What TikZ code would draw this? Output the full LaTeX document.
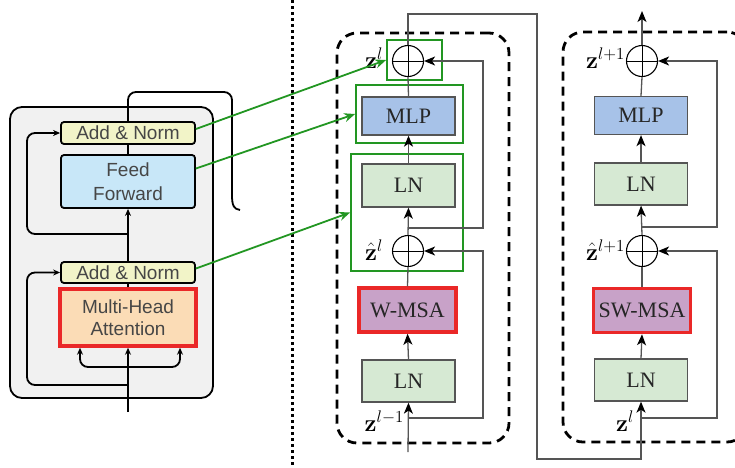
\RequirePackage{fix-cm}
\documentclass[tikz,border=0pt]{standalone}
\usepackage{amsmath,amssymb}
\usepackage[no-math]{fontspec}
\setmainfont{Liberation Serif}
\setsansfont{Liberation Sans}
\usepackage{xcolor}
\usepackage{tikz}
\usetikzlibrary{arrows.meta,positioning,calc}

\definecolor{encgray}{RGB}{241,241,241}
\definecolor{addyellow}{RGB}{242,244,200}
\definecolor{ffblue}{RGB}{200,231,248}
\definecolor{mhapeach}{RGB}{251,220,182}
\definecolor{hotred}{RGB}{234,40,40}
\definecolor{enctext}{RGB}{70,70,70}
\definecolor{mlpblue}{RGB}{167,194,232}
\definecolor{lngreen}{RGB}{214,233,211}
\definecolor{msapurple}{RGB}{200,162,200}
\definecolor{wire}{RGB}{85,85,85}
\definecolor{linkgreen}{RGB}{34,150,34}

\begin{document}
\begin{tikzpicture}[x=1pt, y=-1pt,
    encbox/.style={draw, line width=1.8pt, rounded corners=3pt, minimum width=134pt, inner sep=0pt, align=center, text=enctext, font=\sffamily\fontsize{19}{24}\selectfont},
    encline/.style={line width=1.8pt, rounded corners=8pt},
    encarrow/.style={encline, -{Stealth[length=7pt, width=6pt]}},
    swin/.style={draw=wire, line width=1.3pt, minimum width=93pt, inner sep=0pt, text=black!85, font=\fontsize{22}{24}\selectfont},
    msa/.style={swin, draw=hotred, line width=3.5pt, fill=msapurple, minimum width=97pt, minimum height=44pt},
    plus/.style={circle, draw=black, line width=1.1pt, minimum size=31pt, inner sep=0pt,
        path picture={\draw[black, line width=1pt] (path picture bounding box.north) -- (path picture bounding box.south)
            (path picture bounding box.west) -- (path picture bounding box.east);}},
    wireline/.style={draw=wire, line width=1.3pt},
    wirearrow/.style={wireline, -{Stealth[length=11pt, width=9pt, inset=3pt, color=black]}},
    blockbox/.style={draw, dash pattern=on 9pt off 6pt, line width=2.8pt, rounded corners=20pt, inner sep=0pt},
    greenbox/.style={draw=linkgreen, line width=1.8pt, inner sep=0pt},
    link/.style={draw=linkgreen, line width=1.8pt, -{Stealth[length=11pt, width=9pt]}},
    lbl/.style={inner sep=0pt, font=\fontsize{24}{26}\selectfont}
]
\useasboundingbox (0,0) rectangle (735,467);

% transformer encoder
\node[draw, fill=encgray, line width=1.8pt, rounded corners=12pt, minimum width=203pt, minimum height=291pt, inner sep=0pt] (enc) at (111.5,252.5) {};
\node[encbox, fill=addyellow, minimum height=22pt] (addtop) at (128,133) {Add \& Norm};
\node[encbox, fill=ffblue, minimum height=53pt] (ff) at (128,181.5) {Feed\\Forward};
\node[encbox, fill=addyellow, minimum height=21pt] (addbot) at (128,272.5) {Add \& Norm};
\node[encbox, draw=hotred, line width=3.5pt, rounded corners=0pt, fill=mhapeach, minimum width=136pt, minimum height=57pt, font=\sffamily\fontsize{19}{22}\selectfont] (mha) at (128,317.5) {Multi-Head\\Attention};

\coordinate (encin) at (128,412);
\coordinate (split) at (128,367);
\coordinate (skipa) at (128,385);
\coordinate (skipb) at (128,234);
\draw[encarrow] (encin) -- (mha.south);
\draw[encarrow] (split) -| ([xshift=-48pt]mha.south);
\draw[encarrow] (split) -| ([xshift=52pt]mha.south);
\draw[encarrow] (skipa) -- (27,385) |- (addbot.west);
\draw[encline] (mha.north) -- (addbot.south);
\draw[encarrow] (addbot.north) -- (ff.south);
\draw[encarrow] (skipb) -- (27,234) |- (addtop.west);
\draw[encline] (ff.north) -- (addtop.south);
\draw[encline] (addtop.north) -- (128,92) -- (232,92) -- (232,196);
\draw[line width=1.8pt] (232,195) .. controls (232,206) and (234,209) .. (240,210);

\draw[line width=3pt, dash pattern=on 3pt off 3pt] (292,0) -- (292,467);

% W-MSA block
\node[blockbox, minimum width=172pt, minimum height=410pt] (blk1) at (423,238) {};
\node[plus] (add1) at (408,61) {};
\node[swin, fill=mlpblue, minimum height=38pt] (mlp1) at (408.5,116) {MLP};
\node[swin, fill=lngreen, minimum height=43pt] (ln1a) at (408.5,185.5) {LN};
\node[plus] (add1h) at (408,251) {};
\node[msa] (msa1) at (407.5,310) {W-MSA};
\node[swin, fill=lngreen, minimum height=42pt] (ln1b) at (408.5,381) {LN};
\node[greenbox, minimum width=55pt, minimum height=40pt] (gadd) at (414.5,60) {};
\node[greenbox, minimum width=107pt, minimum height=58pt] (gmlp) at (409.5,114) {};
\node[greenbox, minimum width=112pt, minimum height=117pt] (gln) at (407,212.5) {};

\node[lbl, anchor=base east] (zl) at (383,68) {$\mathbf{z}^{l}$};
\node[lbl, anchor=base east] (zhl) at (383,260) {$\hat{\mathbf{z}}^{l}$};
\node[lbl, anchor=base east] (zlm) at (404,431) {$\mathbf{z}^{l-1}$};

\coordinate (in1) at (408,452);
\coordinate (res1a) at (408,418);
\coordinate (res1b) at (408,228);
\draw[wirearrow] (in1) -- (ln1b.south);
\draw[wirearrow] (res1a) -- (483,418) |- (add1h.east);
\draw[wirearrow] (ln1b.north) -- (msa1.south);
\draw[wireline] (msa1.north) -- (add1h.south);
\draw[wirearrow] (add1h.north) -- (ln1a.south);
\draw[wirearrow] (res1b) -- (483,228) |- (add1.east);
\draw[wirearrow] (ln1a.north) -- (mlp1.south);
\draw[wireline] (mlp1.north) -- (add1.south);

% SW-MSA block
\node[blockbox, minimum width=184pt, minimum height=410pt] (blk2) at (655,237) {};
\node[plus] (add2) at (642,61) {};
\node[swin, fill=mlpblue, minimum height=38pt] (mlp2) at (641,115.5) {MLP};
\node[swin, fill=lngreen, minimum height=42pt] (ln2a) at (641,184) {LN};
\node[plus] (add2h) at (642,251) {};
\node[msa] (msa2) at (642,310.5) {SW-MSA};
\node[swin, fill=lngreen, minimum height=42pt] (ln2b) at (641,380) {LN};

\node[lbl, anchor=base east] (zlp) at (625,68) {$\mathbf{z}^{l+1}$};
\node[lbl, anchor=base east] (zhlp) at (625,260) {$\hat{\mathbf{z}}^{l+1}$};
\node[lbl, anchor=base east] (zl2) at (634,431) {$\mathbf{z}^{l}$};

\coordinate (out2) at (642,11);
\coordinate (res2a) at (642,418);
\coordinate (res2b) at (642,227);
\draw[wirearrow] (add1.north) -- (408,14) -| (537,459) -| (ln2b.south);
\draw[wirearrow] (res2a) -- (717,418) |- (add2h.east);
\draw[wirearrow] (ln2b.north) -- (msa2.south);
\draw[wireline] (msa2.north) -- (add2h.south);
\draw[wirearrow] (add2h.north) -- (ln2a.south);
\draw[wirearrow] (res2b) -- (717,227) |- (add2.east);
\draw[wirearrow] (ln2a.north) -- (mlp2.south);
\draw[wireline] (mlp2.north) -- (add2.south);
\draw[wirearrow] (add2.north) -- (out2);

% links between the two
\draw[link] ([yshift=4pt]addtop.east) -- (gadd.west);
\draw[link] ([yshift=13pt]ff.east) -- (gmlp.west);
\draw[link] ([yshift=4pt]addbot.east) -- (gln.west);
\end{tikzpicture}
\end{document}
